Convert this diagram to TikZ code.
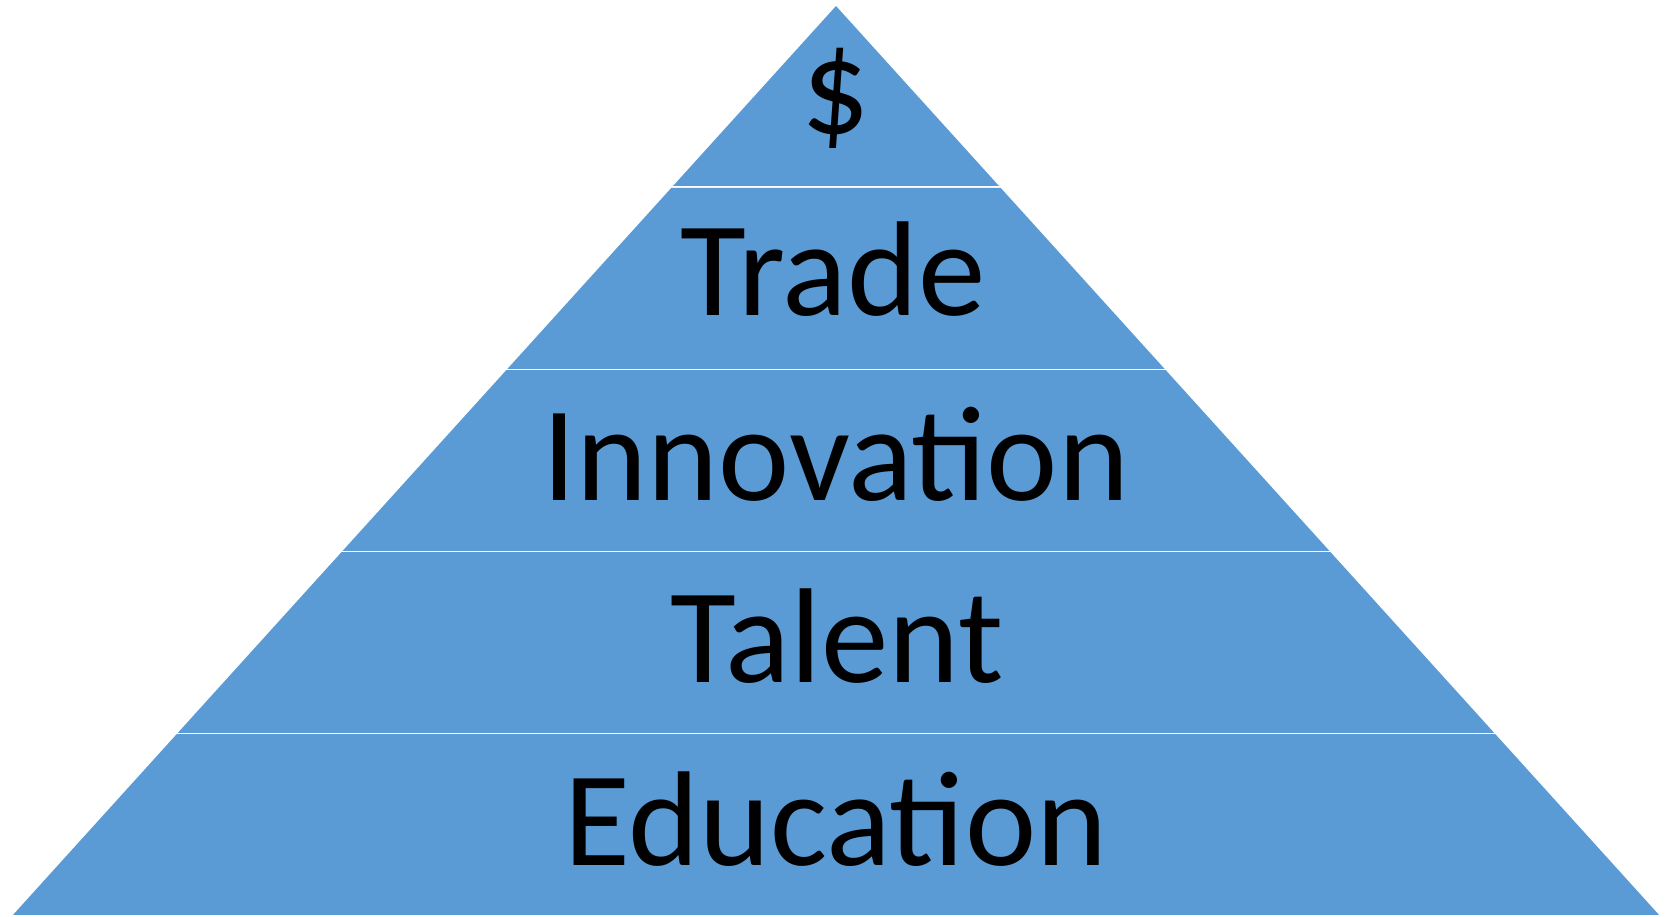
\documentclass[tikz,border=0pt]{standalone}
\usepackage{fontspec}
\setmainfont{Carlito}
\definecolor{layerblue}{HTML}{5B9BD5}
\tikzstyle{layer} = [fill=layerblue, draw=white, line width=3pt, line join=miter]
\tikzstyle{levelText} = [text=black, anchor=base, inner sep=0pt, font=\fontsize{135}{135}\selectfont]

\begin{document}
\begin{tikzpicture}[x=1pt, y=-1pt]

    \useasboundingbox (0,0) rectangle (1667,917);

    % five layers of the pyramid, apex at (836,6), 182 high each
    \foreach \i in {0,...,4} {
        \pgfmathsetmacro\ytop{6+182*\i}
        \pgfmathsetmacro\ybot{6+182*(\i+1)}
        \pgfmathsetmacro\wtop{0.9055*182*\i}
        \pgfmathsetmacro\wbot{0.9055*182*(\i+1)}
        \fill[layerblue] (836-\wtop,\ytop) -- (836+\wtop,\ytop) -- (836+\wbot,\ybot) -- (836-\wbot,\ybot) -- cycle;
        \draw[layer, fill=none] (836-\wbot,\ybot) -- (836+\wbot,\ybot);
    }

    \node (dollar) [levelText] at (836,134) {\$};
    \node (trade) [levelText] at (833,316) {Trade};
    \node (innovation) [levelText] at (836,500) {Innovation};
    \node (talent) [levelText] at (837,682) {Talent};
    \node (education) [levelText] at (836,865) {Education};

\end{tikzpicture}
\end{document}
